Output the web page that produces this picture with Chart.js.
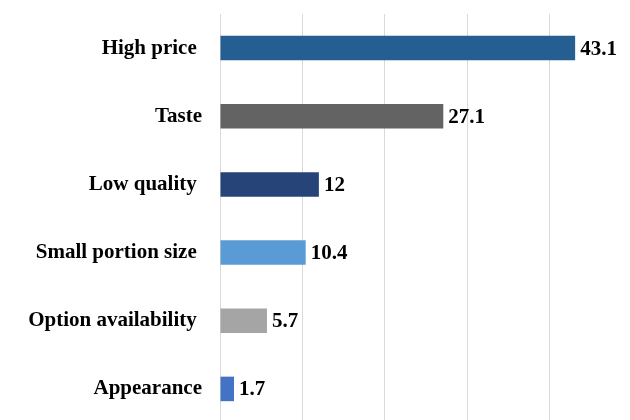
<!DOCTYPE html>
<html>
<head>
<meta charset="utf-8">
<script src="https://cdn.jsdelivr.net/npm/chart.js@4"></script>
<style>
	html, body { margin: 0; padding: 0; background: #fff; overflow: hidden; }
	#wrap { width: 632px; height: 423px; position: relative; }
</style>
</head>
<body>
<div id="wrap"><canvas id="chartReasons"></canvas></div>
<script>
// trailing spaces on some labels keep their original alignment
const reasons = ["High price ", "Taste", "Low quality ", "Small portion size ", "Option availability ", "Appearance"];
const shares = [43.1, 27.1, 12, 10.4, 5.7, 1.7];
const barColors = ["#255e91", "#636363", "#264478", "#5b9bd5", "#a5a5a5", "#4472c4"];
const xTicks = [0, 10, 20, 30, 40, 50];

const labelFont = { family: "'Liberation Serif', 'Times New Roman', serif", size: 21, weight: "bold" };

// writes each bar's value just past its end
const valueLabels = {
	id: "valueLabels",
	afterDatasetsDraw(chart) {
		const { ctx } = chart;
		const meta = chart.getDatasetMeta(0);
		ctx.save();
		ctx.font = `bold ${labelFont.size}px ${labelFont.family}`;
		ctx.fillStyle = "#000";
		ctx.textAlign = "left";
		ctx.textBaseline = "middle";
		meta.data.forEach((bar, i) => {
			ctx.fillText(String(shares[i]), bar.x + 5, bar.y + 1);
		});
		ctx.restore();
	},
};

// no label overhang padding, so the plot fills the canvas
const noPadding = (scale) => {
	scale.paddingTop = 0;
	scale.paddingBottom = 0;
	scale.paddingLeft = 0;
	scale.paddingRight = 0;
};

new Chart(document.getElementById("chartReasons"), {
	type: "bar",
	data: {
		labels: reasons,
		datasets: [
			{
				data: shares,
				backgroundColor: barColors,
				borderWidth: 0,
				barPercentage: 1,
				categoryPercentage: 0.36,
			},
		],
	},
	options: {
		indexAxis: "y",
		responsive: true,
		maintainAspectRatio: false,
		animation: false,
		layout: { padding: { top: 14, right: 0, bottom: 0, left: 0 } },
		plugins: {
			legend: { display: false },
			tooltip: { enabled: false },
		},
		scales: {
			x: {
				min: xTicks[0],
				max: xTicks[xTicks.length - 1],
				afterBuildTicks: (scale) => {
					scale.ticks = xTicks.map((v) => ({ value: v }));
				},
				afterFit: (scale) => {
					scale.height = 0;
					noPadding(scale);
				},
				ticks: { display: false },
				grid: { color: "#d9d9d9", lineWidth: 1, drawTicks: false },
				border: { display: false },
			},
			y: {
				afterFit: (scale) => {
					scale.width = 220;
					noPadding(scale);
				},
				ticks: {
					color: "#000",
					font: labelFont,
					padding: 18,
				},
				grid: { display: false, drawTicks: false },
				border: { display: false },
			},
		},
	},
	plugins: [valueLabels],
});
</script>
</body>
</html>
